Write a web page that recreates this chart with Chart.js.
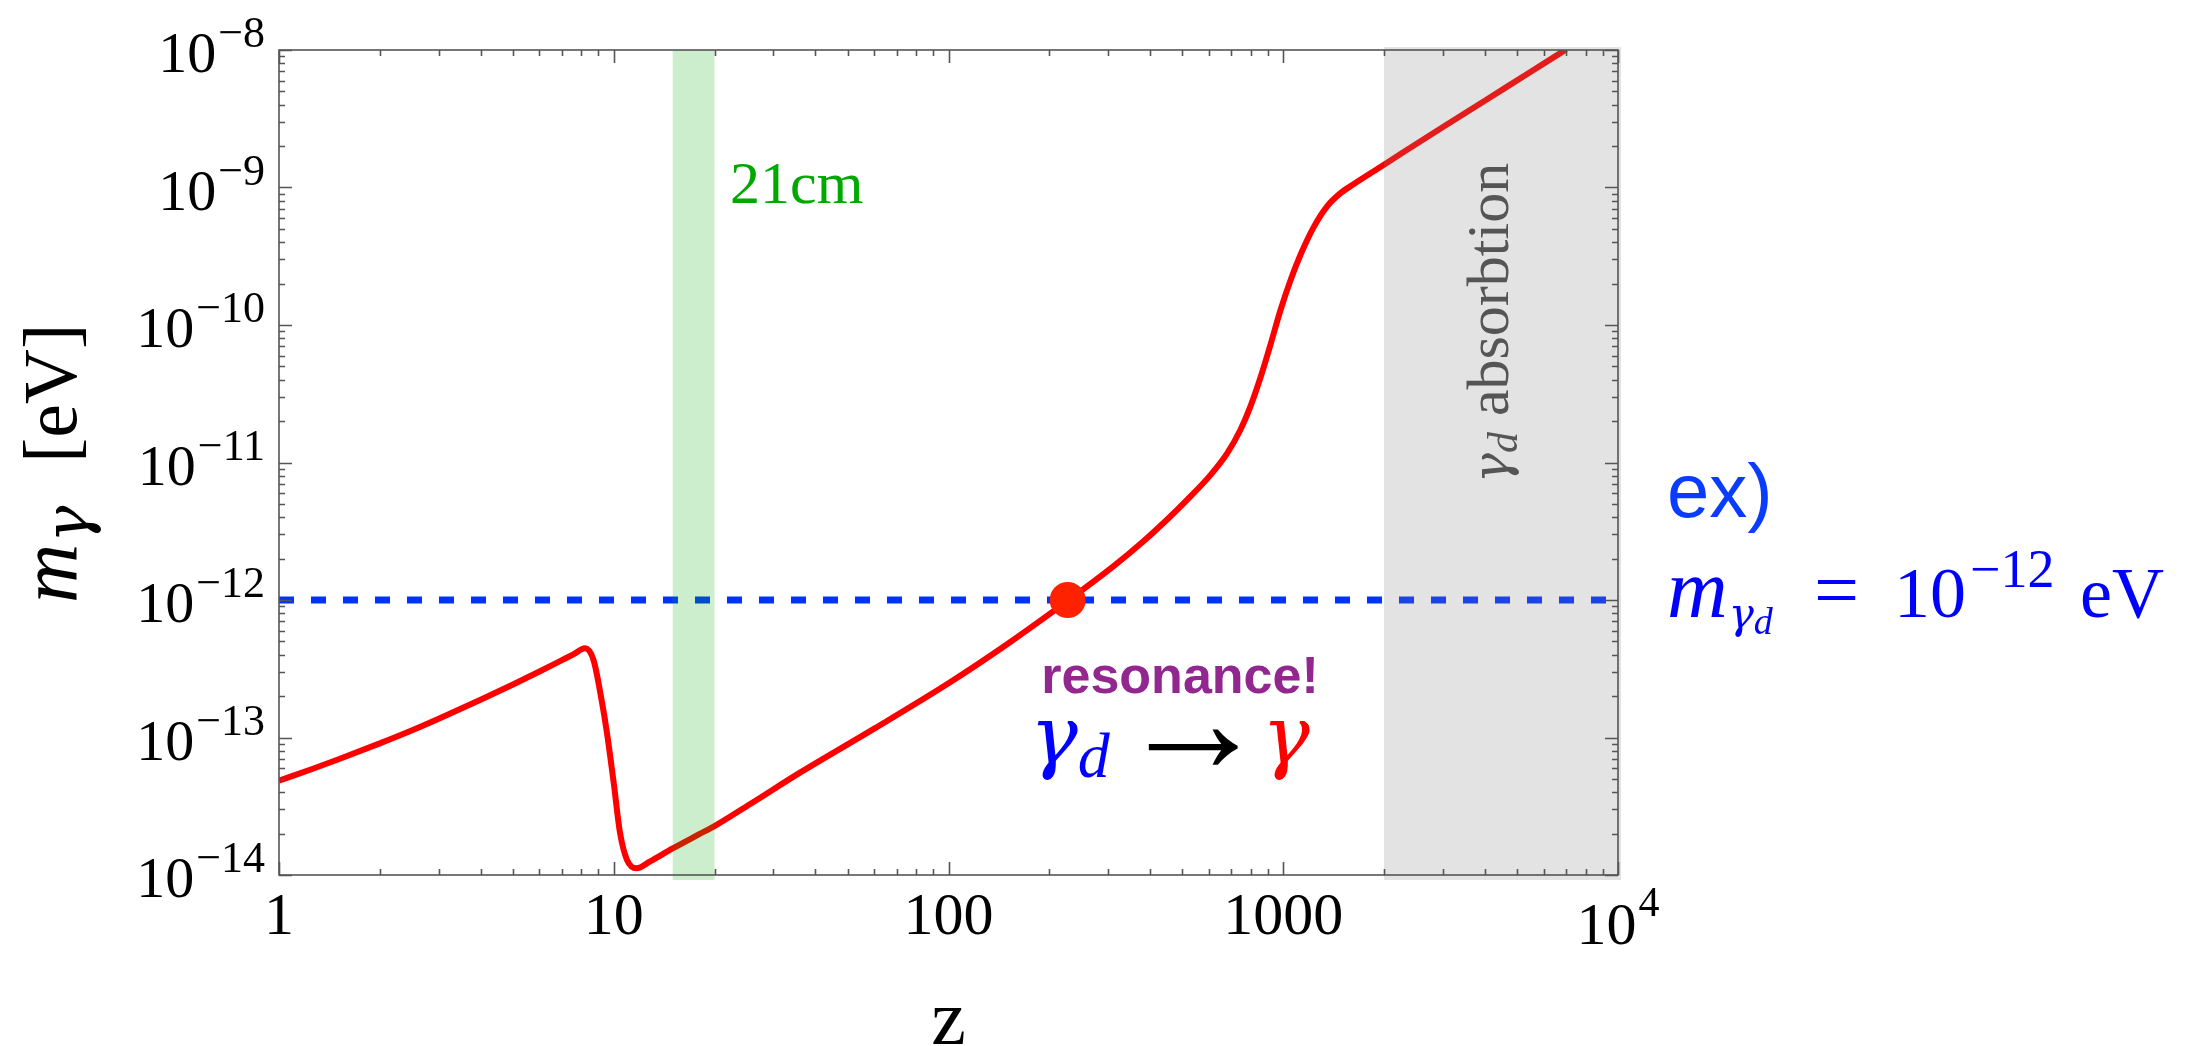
<!DOCTYPE html>
<html>
<head>
<meta charset="utf-8">
<script src="https://cdn.jsdelivr.net/npm/chart.js@4.4.1/dist/chart.umd.min.js"></script>
<style>
  html, body { margin: 0; padding: 0; background: #fff; }
  canvas { display: block; }
</style>
</head>
<body>
<canvas id="canvas" width="2194" height="1046"></canvas>
<script>
// photon plasma mass against redshift, with the dark photon mass marked

let redshift = [1, 1.25, 1.5, 2, 2.5, 3, 4, 5, 6, 7, 7.6, 8.2, 8.7, 9.2, 9.55, 10, 10.45,
  10.95, 11.7, 12.8, 15, 18, 20, 26, 36, 60, 100, 150, 230, 312, 380, 450, 516, 606, 679,
  745, 798, 855, 916, 981, 1050, 1126, 1233, 1352, 1483, 1625, 1951, 2240, 3000, 4000,
  5400, 7000];
let photonMass = [4.86e-14, 5.88e-14, 6.92e-14, 9.07e-14, 1.13e-13, 1.37e-13, 1.88e-13,
  2.43e-13, 3.02e-13, 3.65e-13, 4.04e-13, 4.45e-13, 3.66e-13, 1.87e-13, 1.07e-13, 4.65e-14,
  2.0e-14, 1.29e-14, 1.12e-14, 1.25e-14, 1.56e-14, 1.98e-14, 2.27e-14, 3.37e-14, 5.55e-14,
  1.16e-13, 2.48e-13, 4.79e-13, 1.01e-12, 1.77e-12, 2.64e-12, 3.85e-12, 5.35e-12, 8.1e-12,
  1.16e-11, 1.73e-11, 2.56e-11, 4.15e-11, 7.2e-11, 1.28e-10, 2.1e-10, 3.24e-10, 5.15e-10,
  7.3e-10, 9.1e-10, 1.06e-9, 1.41e-9, 1.75e-9, 2.75e-9, 4.28e-9, 6.78e-9, 1.01e-8];

let darkPhotonMass = 1e-12;
let resonanceZ = 227;

let band21cm = [15, 20];
let absorptionBand = [2000, 10000];

let zTicks = [1, 10, 100, 1000, 10000];
let zTickLabels = ['1', '10', '100', '1000', '10^4'];
let mTicks = [1e-14, 1e-13, 1e-12, 1e-11, 1e-10, 1e-9, 1e-8];
let mTickLabels = ['10^−14', '10^−13', '10^−12', '10^−11', '10^−10', '10^−9', '10^−8'];

const SERIF = '"Liberation Serif", "Times New Roman", serif';
const GREEK = '"DejaVu Serif", serif';
const SANS = '"Liberation Sans", Arial, sans-serif';

let curve = [];
for (let i = 0; i < redshift.length; i++) {
  curve.push({ x: redshift[i], y: photonMass[i] });
}

// text helper, returns the drawn width
function txt(ctx, s, x, y, font, color, align) {
  ctx.font = font;
  ctx.fillStyle = color;
  ctx.textAlign = align || 'left';
  ctx.textBaseline = 'alphabetic';
  ctx.fillText(s, x, y);
  return ctx.measureText(s).width;
}

// "10^-12" style label: base plus superscript
function powerLabel(ctx, label, x, baseY, supY, baseFont, supFont, align) {
  let parts = label.split('^');
  ctx.font = baseFont;
  let wb = ctx.measureText(parts[0]).width;
  let ws = 0;
  if (parts.length > 1) {
    ctx.font = supFont;
    ws = ctx.measureText(parts[1]).width + 2;
  }
  let start = x;
  if (align === 'right') start = x - wb - ws;
  if (align === 'center') start = x - (wb + ws) / 2;
  txt(ctx, parts[0], start, baseY, baseFont, '#000');
  if (parts.length > 1) txt(ctx, parts[1], start + wb + 2, supY, supFont, '#000');
}

// shaded regions drawn over the curves
const bandsPlugin = {
  id: 'bands',
  afterDatasetsDraw(chart) {
    const { ctx, chartArea: a, scales: { x } } = chart;
    ctx.save();
    let x0 = x.getPixelForValue(band21cm[0]);
    let x1 = x.getPixelForValue(band21cm[1]);
    ctx.fillStyle = 'rgba(0,170,0,0.2)';
    ctx.fillRect(x0, a.top, x1 - x0, a.bottom - a.top + 5);

    x0 = x.getPixelForValue(absorptionBand[0]);
    x1 = x.getPixelForValue(absorptionBand[1]);
    ctx.fillStyle = 'rgba(128,128,128,0.22)';
    ctx.fillRect(x0, a.top - 3, x1 - x0 + 3, a.bottom - a.top + 8);
    ctx.restore();
  }
};

// frame with inward ticks on all four sides, then all the labels
const framePlugin = {
  id: 'frame',
  afterDraw(chart) {
    const { ctx, chartArea: a, scales: { x, y } } = chart;
    ctx.save();
    ctx.strokeStyle = '#555';
    ctx.lineWidth = 1.6;
    ctx.strokeRect(a.left, a.top, a.right - a.left, a.bottom - a.top);

    ctx.beginPath();
    for (let e = 0; e <= 4; e++) {
      for (let k = 1; k <= 9; k++) {
        let v = k * Math.pow(10, e);
        if (v > 10000) break;
        let px = Math.round(x.getPixelForValue(v)) + 0.5;
        let len = (k === 1) ? 13 : 6;
        ctx.moveTo(px, a.bottom); ctx.lineTo(px, a.bottom - len);
        ctx.moveTo(px, a.top); ctx.lineTo(px, a.top + len);
      }
    }
    for (let e = -14; e <= -8; e++) {
      for (let k = 1; k <= 9; k++) {
        let v = k * Math.pow(10, e);
        if (v > 1.0001e-8) break;
        let py = Math.round(y.getPixelForValue(v)) + 0.5;
        let len = (k === 1) ? 13 : 6;
        ctx.moveTo(a.left, py); ctx.lineTo(a.left + len, py);
        ctx.moveTo(a.right, py); ctx.lineTo(a.right - len, py);
      }
    }
    ctx.stroke();

    // tick labels
    for (let i = 0; i < zTicks.length; i++) {
      let px = x.getPixelForValue(zTicks[i]);
      let sup = zTickLabels[i].indexOf('^') >= 0;
      powerLabel(ctx, zTickLabels[i], px, sup ? 944 : 934, 916,
        '60px ' + SERIF, '42px ' + SERIF, 'center');
    }
    for (let i = 0; i < mTicks.length; i++) {
      let py = y.getPixelForValue(mTicks[i]);
      powerLabel(ctx, mTickLabels[i], 265, py + 22, py - 3,
        '58px ' + SERIF, '44px ' + SERIF, 'right');
    }

    // axis titles
    txt(ctx, 'z', (a.left + a.right) / 2, 1044, '78px ' + SERIF, '#000', 'center');

    ctx.save();
    ctx.translate(76, 603);
    ctx.rotate(-Math.PI / 2);
    let wm = txt(ctx, 'm', 0, 0, 'italic 82px ' + SERIF, '#000');
    txt(ctx, 'γ', wm + 1, 12, 'italic 62px ' + GREEK, '#000');
    ctx.restore();
    ctx.save();
    ctx.translate(76, 463);
    ctx.rotate(-Math.PI / 2);
    txt(ctx, '[eV]', 0, 0, '76px ' + SERIF, '#000');
    ctx.restore();

    // band labels
    txt(ctx, '21cm', 730, 203, '60px ' + SERIF, '#00a800');

    ctx.save();
    ctx.translate(1508, 483);
    ctx.rotate(-Math.PI / 2);
    let wg = txt(ctx, 'γ', 0, 0, 'italic 50px ' + GREEK, '#555');
    let wd = txt(ctx, 'd', wg, 9, 'italic 42px ' + SERIF, '#555');
    txt(ctx, 'absorbtion', wg + wd + 16, 0, '60px ' + SERIF, '#555');
    ctx.restore();

    // dark photon mass annotation
    const blue = '#0000ff';
    txt(ctx, 'ex)', 1667, 517, '76px ' + SANS, '#0a3cff');
    let cx = 1667;
    cx += txt(ctx, 'm', cx, 617, 'italic 84px ' + SERIF, blue) + 1;
    cx += txt(ctx, 'γ', cx, 628, 'italic 42px ' + GREEK, blue);
    txt(ctx, 'd', cx, 634, 'italic 38px ' + SERIF, blue);
    txt(ctx, '=', 1814, 617, '80px ' + SERIF, blue);
    cx = 1894;
    cx += txt(ctx, '10', cx, 617, '72px ' + SERIF, blue) + 4;
    txt(ctx, '−12', cx, 587, '54px ' + SERIF, blue);
    txt(ctx, 'eV', 2080, 617, '72px ' + SERIF, blue);

    // resonance note
    txt(ctx, 'resonance!', 1180, 693, 'bold 52px ' + SANS, '#92278f', 'center');
    let rx = 1030;
    rx += txt(ctx, 'γ', rx, 763, 'italic 80px ' + GREEK, blue);
    txt(ctx, 'd', rx, 777, 'italic 64px ' + SERIF, blue);
    txt(ctx, '→', 1193, 772, '150px ' + SERIF, '#000', 'center');
    txt(ctx, 'γ', 1262, 763, 'italic 80px ' + GREEK, '#ff0000');

    ctx.restore();
  }
};

let options = {
  type: 'line',
  data: {
    datasets: [
      {
        // resonance point
        data: [{ x: resonanceZ, y: darkPhotonMass }],
        showLine: false,
        pointRadius: 18,
        pointHoverRadius: 18,
        pointBackgroundColor: '#ff2200',
        pointBorderWidth: 0,
        order: 0
      },
      {
        data: curve,
        borderColor: '#ff0000',
        borderWidth: 6,
        pointRadius: 0,
        pointHoverRadius: 0,
        cubicInterpolationMode: 'monotone',
        fill: false,
        order: 1
      },
      {
        data: [{ x: 1, y: darkPhotonMass }, { x: 10000, y: darkPhotonMass }],
        borderColor: '#0033ff',
        borderWidth: 7,
        borderDash: [15, 17],
        borderCapStyle: 'butt',
        pointRadius: 0,
        pointHoverRadius: 0,
        fill: false,
        order: 2
      }
    ]
  },
  options: {
    responsive: false,
    animation: false,
    layout: { padding: { left: 279, right: 576, top: 50, bottom: 171 } },
    plugins: {
      legend: { display: false },
      tooltip: { enabled: false }
    },
    scales: {
      x: { type: 'logarithmic', min: 1, max: 10000, display: false },
      y: { type: 'logarithmic', min: 1e-14, max: 1e-8, display: false }
    }
  },
  plugins: [bandsPlugin, framePlugin]
};

let chart = new Chart(document.getElementById('canvas'), options);
</script>
</body>
</html>
